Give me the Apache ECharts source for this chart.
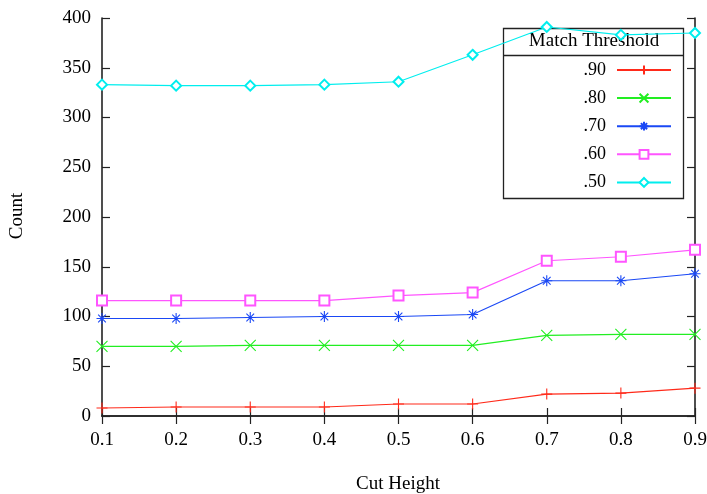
<!DOCTYPE html>
<html>
<head>
<meta charset="utf-8">
<script src="https://cdn.jsdelivr.net/npm/echarts@6/dist/echarts.min.js"></script>
<style>
html,body{margin:0;padding:0;background:#fff;}
#chart{width:707px;height:494px;}
</style>
</head>
<body>
<div id="chart"></div>
<script>
const categories = ['0.1', '0.2', '0.3', '0.4', '0.5', '0.6', '0.7', '0.8', '0.9'];
const yTicks = [0, 50, 100, 150, 200, 250, 300, 350, 400];
const seriesNames = ['.90', '.80', '.70', '.60', '.50'];
const s90 = [8, 9, 9, 9, 12, 12, 22, 23, 28];
const s80 = [70, 70, 71, 71, 71, 71, 81, 82, 82];
const s70 = [98, 98, 99, 100, 100, 102, 136, 136, 143];
const s60 = [116, 116, 116, 116, 121, 124, 156, 160, 167];
const s50 = [333, 332, 332, 333, 336, 363, 391, 383, 385];
const seriesValues = [s90, s80, s70, s60, s50];

const colors = ['#ff2a1a', '#22ee22', '#1a48f5', '#ff55ff', '#00eeee'];
const symbols = [
  'path://M0,5L10,5M5,0L5,10',
  'path://M0,0L10,10M0,10L10,0',
  'path://M0,5L10,5M5,0L5,10M1.5,1.5L8.5,8.5M1.5,8.5L8.5,1.5',
  'emptyRect',
  'emptyDiamond'
];
const symbolSizes = [11, 11, 11, 10, 10];

const FONT = 'Liberation Serif';
const chart = echarts.init(document.getElementById('chart'), null, {renderer: 'canvas'});

const series = seriesNames.map((name, i) => ({
  name: name,
  type: 'line',
  data: seriesValues[i],
  symbol: symbols[i],
  symbolSize: symbolSizes[i],
  showAllSymbol: true,
  lineStyle: {color: colors[i], width: 1.1},
  itemStyle: {color: colors[i], borderColor: colors[i], borderWidth: 1.1},
  emphasis: {disabled: true},
  z: 3
}));

const tickStyle = {show: true, inside: true, length: 8, lineStyle: {color: '#222', width: 1.2}};
const lineStyleAxis = {show: true, lineStyle: {color: '#222', width: 1.6}};

chart.setOption({
  animation: false,
  backgroundColor: '#fff',
  grid: {left: 102, right: 12, top: 18, bottom: 78, containLabel: false, outerBoundsMode: 'none'},
  xAxis: [
    {
      type: 'category', data: categories, boundaryGap: false,
      axisLine: lineStyleAxis, axisTick: tickStyle,
      axisLabel: {color: '#000', fontFamily: FONT, fontSize: 19, margin: 15},
      splitLine: {show: false}
    },
    {
      type: 'category', data: categories, boundaryGap: false, position: 'top',
      axisLine: lineStyleAxis, axisTick: tickStyle,
      axisLabel: {show: false}, splitLine: {show: false}
    }
  ],
  yAxis: [
    {
      type: 'value', min: yTicks[0], max: yTicks[yTicks.length - 1], interval: 50,
      axisLine: lineStyleAxis, axisTick: tickStyle,
      axisLabel: {color: '#000', fontFamily: FONT, fontSize: 19, margin: 11},
      splitLine: {show: false}
    },
    {
      type: 'value', min: yTicks[0], max: yTicks[yTicks.length - 1], interval: 50, position: 'right',
      axisLine: lineStyleAxis, axisTick: tickStyle,
      axisLabel: {show: false}, splitLine: {show: false}
    }
  ],
  legend: {
    data: seriesNames,
    orient: 'vertical',
    align: 'right',
    right: 35,
    top: 61,
    padding: 0,
    itemWidth: 54,
    itemHeight: 11,
    itemGap: 10.1,
    selectedMode: false,
    textStyle: {color: '#000', fontFamily: FONT, fontSize: 18, padding: [0, 6, 0, 0]}
  },
  graphic: [
    {type: 'rect', shape: {x: 503.5, y: 28.5, width: 180, height: 170}, style: {fill: 'none', stroke: '#222', lineWidth: 1.3}, z: 1},
    {type: 'line', shape: {x1: 503.5, y1: 55.5, x2: 683.5, y2: 55.5}, style: {stroke: '#222', lineWidth: 1.3}, z: 1},
    {type: 'text', x: 594, y: 41, style: {text: 'Match Threshold', fill: '#000', font: '19px "Liberation Serif"', textAlign: 'center', textVerticalAlign: 'middle'}, z: 1},
    {type: 'text', x: 17, y: 216, rotation: Math.PI / 2, style: {text: 'Count', fill: '#000', font: '19px "Liberation Serif"', textAlign: 'center', textVerticalAlign: 'middle'}},
    {type: 'text', x: 398, y: 484, style: {text: 'Cut Height', fill: '#000', font: '19px "Liberation Serif"', textAlign: 'center', textVerticalAlign: 'middle'}}
  ],
  series: series
});
</script>
</body>
</html>
